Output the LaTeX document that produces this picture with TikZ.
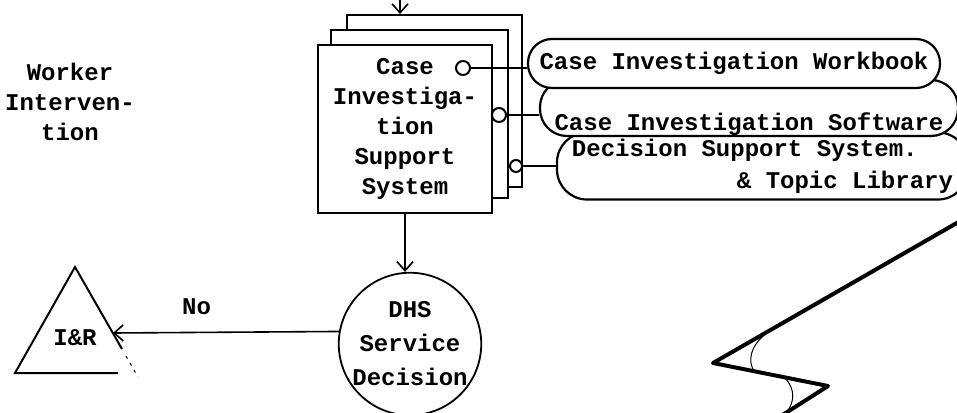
\documentclass[tikz,border=0pt]{standalone}
\usepackage{fontspec}
\setmonofont{Liberation Mono}
\usetikzlibrary{arrows.meta,positioning}

\begin{document}
\begin{tikzpicture}[x=1pt,y=-1pt,
  txt/.style={font=\ttfamily\bfseries\fontsize{24}{30}\selectfont,align=center,inner sep=0pt},
  sheet/.style={txt,draw,fill=white,line width=2pt,minimum width=174pt,minimum height=168pt},
  pill/.style={txt,draw,fill=white,line width=2.2pt},
  port/.style={circle,draw,fill=white,line width=2pt,inner sep=0pt,minimum size=14pt},
  wire/.style={line width=2pt},
  flow/.style={line width=1.6pt,-{Straight Barb[length=9pt,width=16pt]}}]
\useasboundingbox (0,0) rectangle (957,412);
\node[txt](worker) at (70,102){Worker\\Interven-\\tion};
\node[sheet,minimum width=175pt,minimum height=172pt](back) at (434.5,101){};
\node[sheet,minimum width=177pt](mid) at (419.5,114){};
\node[sheet](cis) at (405,129){Case\\Investiga-\\tion\\Support\\System};
\node[pill,minimum width=411pt,minimum height=67pt,align=left,rounded corners=30pt,font=\ttfamily\bfseries\fontsize{24}{32}\selectfont](dss) at (762.5,166){Decision Support System.\\\hspace*{165pt}\& Topic Library};
\node[pill,minimum width=418pt,text height=50pt,text depth=6pt,rounded corners=27pt,anchor=base](sw) at (749,130){Case Investigation Software};
\node[pill,minimum width=412pt,text height=31pt,text depth=18pt,rounded corners=24pt,anchor=base](wb) at (734,70){Case Investigation Workbook};
\node[port](p1) at (463,68){};
\node[port](p2) at (499,115){};
\node[port,minimum size=12pt](p3) at (516,166){};
\draw[wire](p1)--(p1 -| wb.west);\draw[wire](p2)--(p2 -| sw.west);\draw[wire](p3)--(p3 -| dss.west);
\coordinate (feed) at (400,-12);
\draw[flow](feed)--(feed |- back.north);
\node[txt,circle,draw,line width=1.8pt,minimum size=132pt,font=\ttfamily\bfseries\fontsize{24}{34}\selectfont](dhs) at (410,344){DHS\\Service\\Decision};
\draw[flow](cis.south)--(cis.south |- dhs.north);
\node[txt](ir) at (75,338){I\&R};
\coordinate (irtop) at (75,267);\coordinate (irleft) at (15,373);\coordinate (irside) at (113,333);
\draw[line width=2pt](118,373)--(irleft)--(irtop)--(122,349);
\draw[line width=1pt,dash pattern=on 3pt off 5pt](126,356)--(138,377);
\draw[flow](dhs.170)--(irside) node[txt,pos=0.63,above=17pt]{No};
\draw[line width=4pt,line join=round](962,220)--(713,363)--(828,386)--(781,416);
\draw[line width=1pt](768,332) .. controls (749,346) and (748,362) .. (754,371);
\draw[line width=1pt](785,378) .. controls (796,390) and (794,402) .. (787,412);
\end{tikzpicture}
\end{document}
